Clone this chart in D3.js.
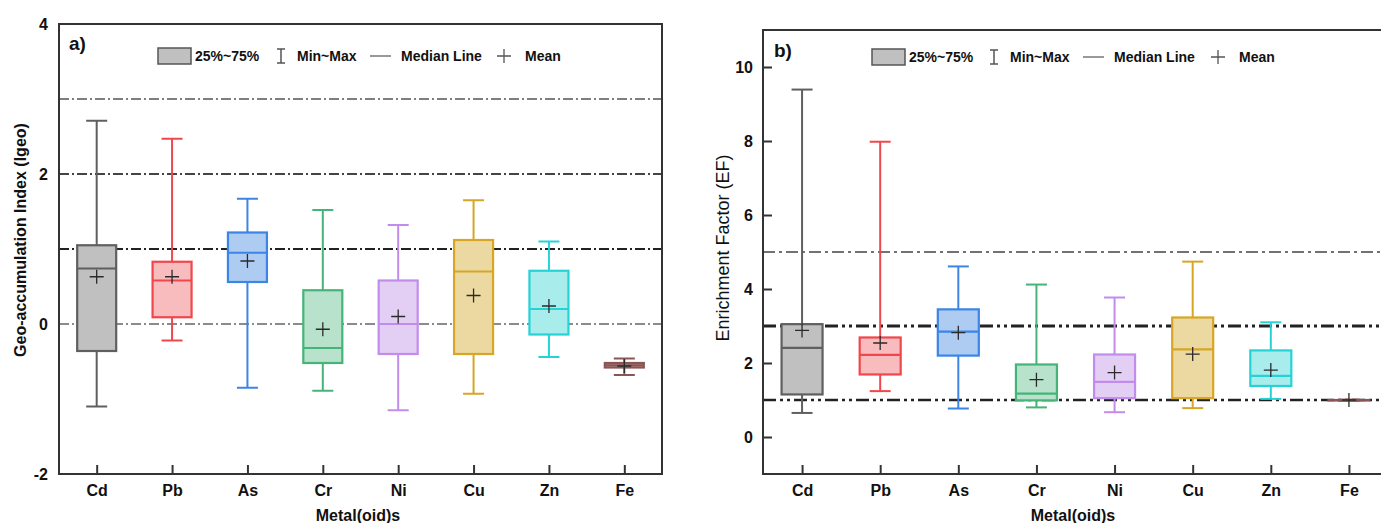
<!DOCTYPE html>
<html>
<head>
<meta charset="utf-8">
<script src="https://cdn.jsdelivr.net/npm/d3@7"></script>
<style>
  html, body { margin: 0; padding: 0; background: #fff; }
  svg { display: block; font-family: Arial, "Liberation Sans", sans-serif; }
</style>
</head>
<body>
<svg id="chart" width="1381" height="523"></svg>
<script>
// Metal(oid) categories shared by both panels
const metals = ["Cd", "Pb", "As", "Cr", "Ni", "Cu", "Zn", "Fe"];

// Geo-accumulation index (Igeo) summary statistics
const igeoMin    = [-1.10, -0.22, -0.85, -0.89, -1.15, -0.93, -0.44, -0.68];
const igeoQ1     = [-0.36,  0.09,  0.56, -0.52, -0.40, -0.40, -0.14, -0.58];
const igeoMedian = [ 0.74,  0.58,  0.95, -0.32,  0.00,  0.70,  0.20, -0.55];
const igeoQ3     = [ 1.05,  0.83,  1.22,  0.45,  0.58,  1.12,  0.71, -0.52];
const igeoMax    = [ 2.71,  2.47,  1.67,  1.52,  1.32,  1.65,  1.10, -0.46];
const igeoMean   = [ 0.63,  0.63,  0.84, -0.07,  0.10,  0.38,  0.24, -0.56];
const igeoTicks  = [-2, 0, 2, 4];
const igeoRefs   = [3, 2, 1, 0];

// Enrichment factor (EF) summary statistics
const efMin    = [0.65, 1.24, 0.77, 0.80, 0.67, 0.78, 1.03, 0.98];
const efQ1     = [1.15, 1.69, 2.20, 0.99, 1.05, 1.05, 1.38, 0.99];
const efMedian = [2.41, 2.22, 2.85, 1.17, 1.49, 2.37, 1.65, 1.00];
const efQ3     = [3.05, 2.69, 3.45, 1.96, 2.23, 3.23, 2.34, 1.00];
const efMax    = [9.39, 7.98, 4.61, 4.12, 3.77, 4.74, 3.10, 1.01];
const efMean   = [2.88, 2.54, 2.82, 1.55, 1.74, 2.24, 1.81, 1.00];
const efTicks  = [0, 2, 4, 6, 8, 10];
const efRefs   = [5, 3, 1];

// Per-metal stroke and fill colours
const strokeColors = ["#5f5f5f", "#f0474c", "#3a85e6", "#45b478", "#c18cec", "#d6a624", "#25d3d6", "#8a5555"];
const fillColors   = ["#c0c0c0", "#f9bcbe", "#aecbf2", "#b8e2cb", "#e3cff4", "#ecd9a2", "#a9ecec", "#c79a9a"];

const svg = d3.select("#chart");
const FONT = "Arial, 'Liberation Sans', sans-serif";

function drawPanel(p) {
  const g = svg.append("g");
  const x = d3.scalePoint().domain(metals).range([p.left, p.right]).padding(0.5);
  const y = d3.scaleLinear().domain(p.domain).range([p.bottom, p.top]);

  // reference threshold lines
  p.refs.forEach((v, i) => {
    const st = p.refStyles[i];
    g.append("line")
      .attr("x1", p.left).attr("x2", p.right)
      .attr("y1", y(v)).attr("y2", y(v))
      .attr("stroke", st.color).attr("stroke-width", st.width)
      .attr("stroke-dasharray", st.dash);
  });

  const rows = metals.map((m, i) => ({
    m, i, min: p.min[i], q1: p.q1[i], med: p.median[i], q3: p.q3[i], max: p.max[i], mean: p.mean[i]
  }));

  const bw = p.boxWidth, cw = p.capWidth;
  const box = g.selectAll("g.box").data(rows).join("g").attr("class", "box");

  // whiskers
  box.append("line")
    .attr("x1", d => x(d.m)).attr("x2", d => x(d.m))
    .attr("y1", d => y(d.max)).attr("y2", d => y(d.min))
    .attr("stroke", d => strokeColors[d.i]).attr("stroke-width", 2);
  box.selectAll("line.cap").data(d => [d.min, d.max].map(v => ({ v, d }))).join("line")
    .attr("class", "cap")
    .attr("x1", e => x(e.d.m) - cw / 2).attr("x2", e => x(e.d.m) + cw / 2)
    .attr("y1", e => y(e.v)).attr("y2", e => y(e.v))
    .attr("stroke", e => strokeColors[e.d.i]).attr("stroke-width", 2);

  // interquartile box
  box.append("rect")
    .attr("x", d => x(d.m) - bw / 2).attr("width", bw)
    .attr("y", d => y(d.q3)).attr("height", d => Math.max(0.5, y(d.q1) - y(d.q3)))
    .attr("fill", d => fillColors[d.i])
    .attr("stroke", d => strokeColors[d.i]).attr("stroke-width", 2.2);

  // median
  box.append("line")
    .attr("x1", d => x(d.m) - bw / 2).attr("x2", d => x(d.m) + bw / 2)
    .attr("y1", d => y(d.med)).attr("y2", d => y(d.med))
    .attr("stroke", d => strokeColors[d.i]).attr("stroke-width", 2.2);

  // mean marker
  box.append("path")
    .attr("d", d => {
      const cx = x(d.m), cy = y(d.mean), s = 7;
      return `M${cx - s},${cy}H${cx + s}M${cx},${cy - s}V${cy + s}`;
    })
    .attr("stroke", "#2a2a2a").attr("stroke-width", 1.3).attr("fill", "none");

  // frame
  g.append("rect")
    .attr("x", p.left).attr("y", p.top)
    .attr("width", p.right - p.left).attr("height", p.bottom - p.top)
    .attr("fill", "none").attr("stroke", "#333").attr("stroke-width", 2);

  // x axis
  const xAxis = g.append("g").attr("transform", `translate(0,${p.bottom})`)
    .call(d3.axisBottom(x).tickSizeInner(-9).tickSizeOuter(0).tickPadding(11));
  xAxis.select(".domain").remove();
  xAxis.selectAll(".tick line").attr("stroke", "#333").attr("stroke-width", 2);
  xAxis.selectAll(".tick text").attr("font-size", 16).attr("font-weight", "bold")
    .attr("fill", "#111").attr("font-family", FONT);

  // y axis (plain hyphen for negative labels)
  const yAxis = g.append("g").attr("transform", `translate(${p.left},0)`)
    .call(d3.axisLeft(y).tickValues(p.ticks).tickFormat(d => String(d))
      .tickSizeInner(p.yTickSize).tickSizeOuter(0).tickPadding(p.yTickPad));
  yAxis.select(".domain").remove();
  yAxis.selectAll(".tick line").attr("stroke", "#333").attr("stroke-width", 2);
  yAxis.selectAll(".tick text").attr("font-size", 16).attr("font-weight", "bold")
    .attr("fill", "#111").attr("font-family", FONT);

  // axis titles
  g.append("text")
    .attr("transform", `translate(${p.yTitleX},${p.yTitleY}) rotate(-90)`)
    .attr("text-anchor", "middle").attr("dominant-baseline", "central")
    .attr("font-size", p.yTitleSize).attr("font-weight", p.yTitleWeight).attr("fill", "#111")
    .text(p.yTitle);
  g.append("text")
    .attr("x", p.xTitleX).attr("y", 515)
    .attr("text-anchor", "middle").attr("dominant-baseline", "central")
    .attr("font-size", 16).attr("font-weight", "bold").attr("fill", "#111")
    .text("Metal(oid)s");

  // panel label
  g.append("text")
    .attr("x", p.labelX).attr("y", p.labelY)
    .attr("dominant-baseline", "central")
    .attr("font-size", 19).attr("font-weight", "bold").attr("fill", "#111")
    .text(p.label);

  // legend
  const L = p.legend, ly = L.y;
  const lg = g.append("g").attr("font-size", 14).attr("font-weight", "bold").attr("fill", "#111");
  lg.append("rect").attr("x", L.box).attr("y", ly - 8).attr("width", 33).attr("height", 16)
    .attr("fill", "#c0c0c0").attr("stroke", "#555").attr("stroke-width", 1.5);
  lg.append("text").attr("x", L.box + 37).attr("y", ly).attr("dominant-baseline", "central").text("25%~75%");
  lg.append("path")
    .attr("d", `M${L.range - 4},${ly - 7}H${L.range + 4}M${L.range},${ly - 7}V${ly + 7}M${L.range - 4},${ly + 7}H${L.range + 4}`)
    .attr("stroke", "#555").attr("stroke-width", 1.5).attr("fill", "none");
  lg.append("text").attr("x", L.range + 16).attr("y", ly).attr("dominant-baseline", "central").text("Min~Max");
  lg.append("line").attr("x1", L.med).attr("x2", L.med + 21).attr("y1", ly).attr("y2", ly)
    .attr("stroke", "#777").attr("stroke-width", 1.5);
  lg.append("text").attr("x", L.med + 31).attr("y", ly).attr("dominant-baseline", "central").text("Median Line");
  lg.append("path")
    .attr("d", `M${L.mean - 7},${ly}H${L.mean + 7}M${L.mean},${ly - 7}V${ly + 7}`)
    .attr("stroke", "#555").attr("stroke-width", 1.3).attr("fill", "none");
  lg.append("text").attr("x", L.mean + 21).attr("y", ly).attr("dominant-baseline", "central").text("Mean");
}

// panel a) Igeo
drawPanel({
  left: 59, right: 662, top: 24, bottom: 474,
  domain: [-2, 4], ticks: igeoTicks, refs: igeoRefs,
  refStyles: [
    { color: "#555", width: 1.5, dash: "10,3,2,3" },
    { color: "#444", width: 2,   dash: "10,3,2,3" },
    { color: "#222", width: 2,   dash: "10,3,2,3" },
    { color: "#666", width: 1.6, dash: "10,3,2,3" }
  ],
  min: igeoMin, q1: igeoQ1, median: igeoMedian, q3: igeoQ3, max: igeoMax, mean: igeoMean,
  boxWidth: 39, capWidth: 21,
  yTickSize: 0, yTickPad: 11,
  yTitle: "Geo-accumulation Index (Igeo)", yTitleX: 20, yTitleY: 240, yTitleSize: 16, yTitleWeight: "bold",
  xTitleX: 358, label: "a)", labelX: 69, labelY: 43,
  legend: { y: 56, box: 158, range: 281, med: 370, mean: 504 }
});

// panel b) EF
drawPanel({
  left: 763, right: 1388, top: 30, bottom: 474,
  domain: [-1, 11], ticks: efTicks, refs: efRefs,
  refStyles: [
    { color: "#444", width: 1.6, dash: "12,4,3,4" },
    { color: "#222", width: 3,   dash: "13,4,3,4,3,4" },
    { color: "#222", width: 2.4, dash: "13,4,3,4,3,4" }
  ],
  min: efMin, q1: efQ1, median: efMedian, q3: efQ3, max: efMax, mean: efMean,
  boxWidth: 41, capWidth: 21,
  yTickSize: -9, yTickPad: 10,
  yTitle: "Enrichment Factor (EF)", yTitleX: 723, yTitleY: 248, yTitleSize: 18, yTitleWeight: "normal",
  xTitleX: 1073, label: "b)", labelX: 774, labelY: 50,
  legend: { y: 57, box: 872, range: 994, med: 1083, mean: 1218 }
});
</script>
</body>
</html>
